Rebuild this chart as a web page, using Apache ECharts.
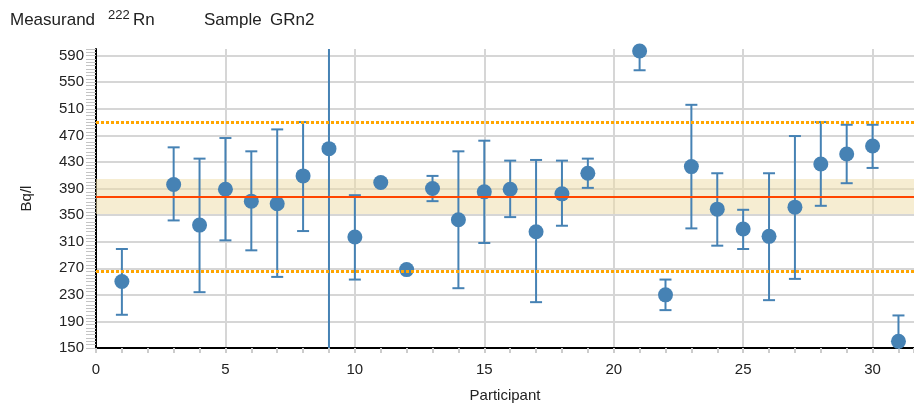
<!DOCTYPE html>
<html>
<head>
<meta charset="utf-8">
<script src="https://cdn.jsdelivr.net/npm/echarts@6/dist/echarts.min.js"></script>
<style>
  html, body { margin: 0; padding: 0; background: #fff; }
  #main { width: 914px; height: 403px; }
</style>
</head>
<body>
<div id="main"></div>
<script>
var participants = [1, 3, 4, 5, 6, 7, 8, 9, 10, 11, 12, 13, 14, 15, 16, 17, 18, 19,
                    21, 22, 23, 24, 25, 26, 27, 28, 29, 30, 31];
var values = [250, 396, 335, 389, 371, 367, 409, 450, 317, 399, 268, 390, 343, 385, 389, 325, 382, 413,
              597, 230, 423, 359, 329, 318, 362, 427, 442, 454, 160];
var lower  = [200, 342, 234, 312, 297, 257, 326, 0, 253, null, null, 371, 240, 308, 347, 219, 334, 391,
              568, 207, 330, 304, 299, 222, 254, 364, 398, 421, 121];
var upper  = [299, 452, 435, 466, 446, 479, 490, 900, 380, null, null, 409, 446, 462, 432, 433, 432, 435,
              626, 253, 516, 413, 358, 413, 469, 490, 486, 486, 199];

var assigned = 378;
var bandLow = 351.5, bandHigh = 404.5;
var limitLow = 265, limitHigh = 490;

var yTicks = { min: 150, max: 600, interval: 40 };
var xTicks = { min: 0, max: 31.6, interval: 5 };

var font = 'Liberation Sans, Arial, sans-serif';
var blue = '#4682b4';

var points = [], bars = [];
for (var i = 0; i < participants.length; i++) {
    points.push([participants[i], values[i]]);
    if (lower[i] != null) bars.push([participants[i], lower[i], upper[i]]);
}

var myChart = echarts.init(document.getElementById('main'));

var option = {
    animation: false,
    graphic: [
        { type: 'text', left: 10, top: 12, style: { text: 'Measurand', fontSize: 17, fontFamily: font, fill: '#222' } },
        { type: 'text', left: 108, top: 9, style: { text: '222', fontSize: 13, fontFamily: font, fill: '#222' } },
        { type: 'text', left: 133, top: 12, style: { text: 'Rn', fontSize: 17, fontFamily: font, fill: '#222' } },
        { type: 'text', left: 204, top: 12, style: { text: 'Sample', fontSize: 17, fontFamily: font, fill: '#222' } },
        { type: 'text', left: 270, top: 12, style: { text: 'GRn2', fontSize: 17, fontFamily: font, fill: '#222' } }
    ],
    grid: { left: 96, right: 0, top: 49, bottom: 55, outerBoundsMode: 'none', containLabel: false },
    xAxis: {
        type: 'value',
        min: xTicks.min, max: xTicks.max, interval: xTicks.interval,
        name: 'Participant', nameLocation: 'middle', nameGap: 40,
        nameTextStyle: { fontSize: 15, fontFamily: font, color: '#222' },
        axisLine: { lineStyle: { color: '#000', width: 2 } },
        axisTick: { length: 5, lineStyle: { color: '#ccc', width: 2 } },
        minorTick: { show: true, splitNumber: 5, length: 5, lineStyle: { color: '#ccc', width: 2 } },
        axisLabel: { fontSize: 15, fontFamily: font, color: '#222', margin: 14, showMaxLabel: false },
        splitLine: { show: true, showMaxLine: false, lineStyle: { color: '#d6d6d6', width: 2 } }
    },
    yAxis: {
        type: 'value',
        min: yTicks.min, max: yTicks.max, interval: yTicks.interval,
        name: 'Bq/l', nameLocation: 'middle', nameGap: 62,
        nameTextStyle: { fontSize: 15, fontFamily: font, color: '#222' },
        axisLine: { show: true, lineStyle: { color: '#000', width: 2 } },
        axisTick: { show: true, length: 10, lineStyle: { color: '#c4c4c4', width: 1 } },
        minorTick: { show: true, splitNumber: 8, length: 10, lineStyle: { color: '#c4c4c4', width: 1 } },
        axisLabel: { fontSize: 15, fontFamily: font, color: '#222', margin: 12, showMaxLabel: false },
        splitLine: { show: true, showMaxLine: false, lineStyle: { color: '#d6d6d6', width: 2 } }
    },
    series: [
        {
            type: 'line',
            data: [],
            silent: true,
            markArea: {
                silent: true,
                itemStyle: { color: 'rgba(238,220,165,0.5)' },
                data: [[{ yAxis: bandLow }, { yAxis: bandHigh }]]
            },
            markLine: {
                silent: true,
                symbol: 'none',
                label: { show: false },
                data: [
                    { yAxis: assigned, lineStyle: { color: '#ff4500', width: 2, type: 'solid' } },
                    { yAxis: limitLow, lineStyle: { color: '#ffa500', width: 3, type: [3, 2] } },
                    { yAxis: limitHigh, lineStyle: { color: '#ffa500', width: 3, type: [3, 2] } }
                ]
            }
        },
        {
            type: 'custom',
            clip: true,
            data: bars,
            renderItem: function (params, api) {
                var x = api.value(0);
                var lo = api.coord([x, api.value(1)]);
                var hi = api.coord([x, api.value(2)]);
                var w = 6;
                var st = { stroke: blue, lineWidth: 2 };
                return {
                    type: 'group',
                    children: [
                        { type: 'line', shape: { x1: lo[0], y1: lo[1], x2: hi[0], y2: hi[1] }, style: st },
                        { type: 'line', shape: { x1: lo[0] - w, y1: lo[1], x2: lo[0] + w, y2: lo[1] }, style: st },
                        { type: 'line', shape: { x1: hi[0] - w, y1: hi[1], x2: hi[0] + w, y2: hi[1] }, style: st }
                    ]
                };
            },
            z: 3
        },
        {
            type: 'scatter',
            data: points,
            symbolSize: 15,
            itemStyle: { color: blue, opacity: 1 },
            z: 4
        }
    ]
};
myChart.setOption(option);
</script>
</body>
</html>
